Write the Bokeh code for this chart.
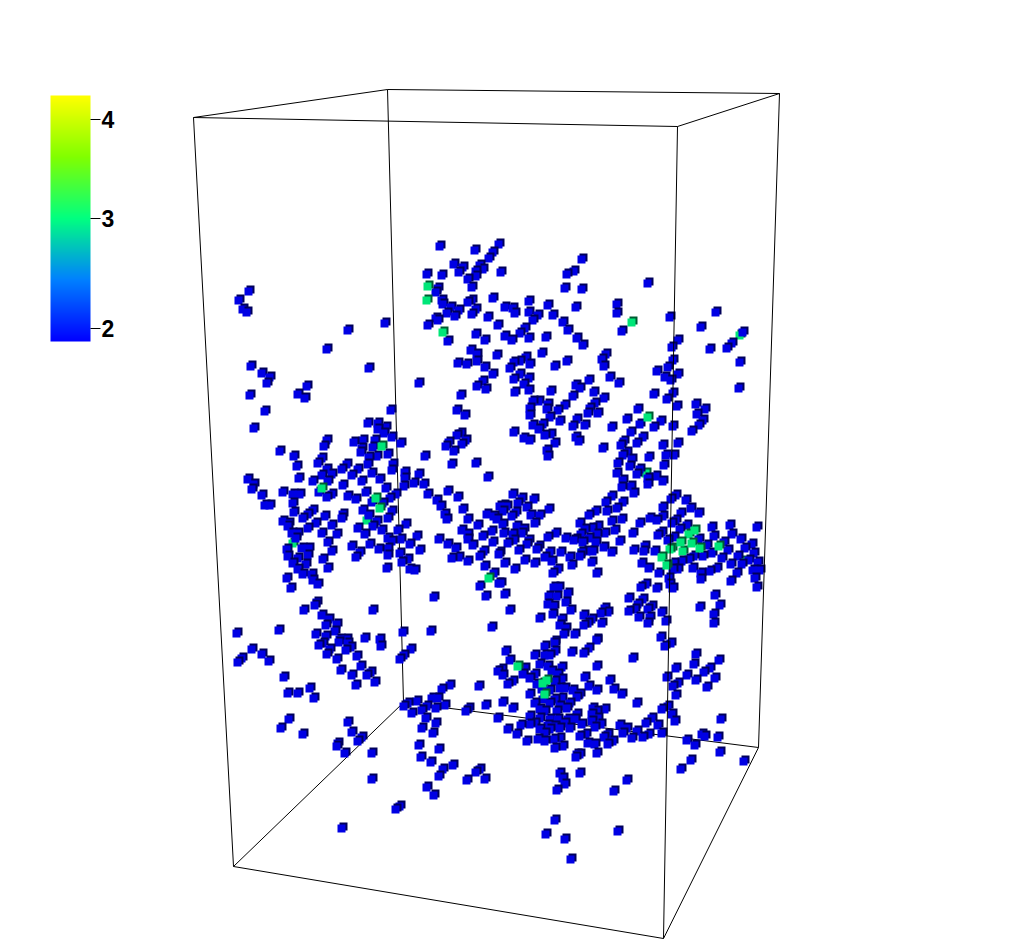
from bokeh.embed import file_html
from bokeh.resources import INLINE
from bokeh.plotting import figure
from bokeh.models import Range1d, ColumnDataSource, ColorBar, LinearColorMapper, FixedTicker

# Projected positions of the data points (image pixels).
upper_left = [(440,245),(475,249),(499,243),(493,251),(489,257),(454,263),(463,266),(480,264),(483,268),(459,271),
 (476,270),(476,275),(427,273),(442,274),(468,278),(501,271),(472,286),(438,287),(436,291),(442,299),(443,303),(451,306),
 (472,299),(468,301),(493,297),(476,308),(459,309),(447,312),(455,315),(472,313),(488,316),(498,324),(436,317),(438,319),
 (428,324),(448,340),(476,333),(485,339),(471,349),(477,353),(477,360),(458,362),(467,363),(497,354),(485,366),(493,373),
 (483,380),(477,385),(486,388),(461,394),(457,409),(465,414),(419,382),(369,367),(385,322),(348,329),(327,348),(249,290),
 (239,299),(243,308),(247,311),(251,365),(262,372),(270,376),(267,382),(307,385),(298,393),(305,397),(250,394),(265,410),
 (254,427),(391,409),(368,422),(378,422),(378,428),(386,426),(384,432),(392,436),(401,442),(354,441),(363,439),(362,447),
 (361,451),(375,439),(373,446),(388,453),(327,439),(324,445),(280,450),(294,455),(322,457),(369,456),(377,455),(425,455),
 (461,432),(457,434),(466,439),(462,443),(449,441),(446,445),(454,450)]
middle_left = [(452,463),(476,462),(297,465),(318,462),(368,463),(393,463),(347,463),(342,468),(327,468),(332,473),(322,474),
 (299,477),(313,480),(328,480),(358,468),(352,474),(372,472),(392,469),(405,471),(405,477),(419,473),(380,478),(362,480),
 (343,484),(414,482),(404,485),(424,483),(488,476),(248,478),(254,483),(252,488),(262,494),(283,491),(319,491),(327,496),
 (332,493),(293,493),(300,493),(293,502),(386,487),(366,491),(348,495),(356,498),(372,501),(396,493),(390,497),(383,502),
 (428,493),(437,499),(441,505),(448,490),(458,496),(463,508),(445,513),(447,518),(468,518),(487,513),(478,524),(500,505),
 (265,504),(270,504),(294,511),(313,509),(308,513),(303,517),(283,520),(289,522),(325,515),(316,522),(343,513),(342,517),
 (363,509),(369,514),(392,510),(388,517),(377,520),(373,525),(332,524),(308,527),(288,525),(292,532),(298,532),(322,532),
 (337,533),(358,527),(365,533),(382,529),(398,529),(406,523),(388,537),(392,540),(401,538),(417,535),(296,537),(328,541),
 (370,543),(352,545),(410,543),(439,538),(448,543),(456,547),(473,544),(462,529),(468,533),(468,538),(483,535),(493,541),
 (492,530),(494,515),(497,518),(420,549),(379,548),(388,547),(388,554),(400,552),(408,558),(402,561),(410,568),(415,569),
 (387,567),(360,551),(356,556),(332,550),(323,558),(328,567),(287,548),(288,555),(302,547),(309,547),(308,554),(298,557),
 (293,562),(306,563),(298,568),(303,573),(312,573),(313,579),(318,583),(287,577),(291,587),(452,557),(459,556),(468,560),
 (480,555),(484,550),(485,565),(494,572),(499,582),(480,585),(486,595),(434,596),(499,553),(315,604),(317,601),(304,609),
 (322,614),(329,618),(337,623),(326,624),(373,609),(237,632),(279,629),(316,633),(335,630),(326,635),(340,638),(347,638),
 (365,637),(380,638),(403,631),(431,630),(492,626)]
lower_left = [(252,648),(262,653),(269,660),(242,657),(238,661),(284,676),(288,692),(298,692),(310,687),(314,697),(319,644),
 (323,642),(339,641),(348,642),(381,645),(346,649),(351,646),(330,648),(327,653),(337,658),(357,655),(361,665),(341,669),
 (352,674),(371,671),(367,674),(375,681),(356,684),(411,648),(404,654),(400,658),(498,670),(479,685),(450,684),(442,688),
 (432,697),(438,697),(417,700),(445,704),(436,707),(427,705),(422,709),(408,702),(404,705),(412,712),(469,707),(466,710),
 (486,704),(498,717),(426,717),(436,722),(422,727),(433,732),(289,718),(281,727),(303,733),(348,721),(352,731),(362,736),
 (358,740),(338,742),(337,745),(345,752),(372,752),(419,744),(439,748),(421,756),(431,761),(453,764),(443,768),(439,775),
 (480,768),(476,771),(467,779),(485,778),(372,778),(427,786),(434,794),(400,805),(396,808),(342,827)]
lower_right = [(506,650),(510,659),(502,668),(525,667),(503,674),(513,680),(508,683),(523,673),(530,677),(535,673),(535,654),
 (545,645),(555,642),(555,650),(545,654),(550,654),(572,651),(584,652),(589,647),(597,639),(540,663),(552,670),(562,666),
 (558,673),(537,683),(550,689),(562,678),(560,687),(565,687),(573,689),(580,693),(577,696),(585,676),(597,665),(589,685),
 (597,689),(610,679),(614,688),(622,693),(633,657),(530,693),(535,702),(543,698),(555,698),(562,697),(560,705),(550,702),
 (545,710),(557,710),(567,707),(503,701),(513,707),(530,715),(540,717),(530,723),(521,724),(508,728),(517,733),(527,740),
 (540,728),(550,718),(550,728),(558,718),(560,727),(568,718),(577,713),(575,718),(570,727),(582,723),(593,707),(597,710),
 (605,708),(592,713),(592,720),(598,717),(595,726),(601,723),(545,740),(554,738),(560,737),(555,747),(580,735),(586,733),
 (588,742),(595,743),(597,752),(577,753),(580,753),(576,756),(604,736),(608,743),(613,740),(608,733),(620,724),(627,727),
 (623,732),(632,737),(637,730),(643,736),(649,733),(646,722),(652,717),(658,724),(662,732),(662,708),(668,705),(672,713),
 (675,720),(637,702),(667,676),(676,667),(678,682),(673,685),(676,694),(687,674),(696,653),(694,663),(696,679),(704,671),
 (710,667),(719,659),(715,677),(707,686),(721,718),(702,733),(705,735),(718,736),(687,739),(695,744),(691,759),(681,768),
 (720,751),(744,760),(661,636),(665,645),(671,642),(560,772),(565,783),(557,789),(563,777),(580,772),(627,779),(614,790),
 (555,819),(546,833),(565,838),(571,858),(618,830),
 (540,708),(548,724),(535,722),(545,732),(555,725),(565,722),(542,688),(555,680),(548,665),(570,702),(538,738),(563,745)]
middle_right = [(617,472),(623,479),(622,486),(631,485),(634,492),(637,473),(648,477),(648,483),(656,475),(663,480),(513,493),
 (522,497),(534,498),(518,502),(527,506),(504,504),(507,505),(503,510),(516,511),(512,515),(531,514),(540,514),(535,522),
 (549,508),(503,523),(517,525),(524,528),(504,532),(513,533),(522,532),(514,539),(508,542),(529,539),(527,543),(539,545),
 (537,548),(519,549),(500,551),(550,551),(548,536),(556,532),(566,537),(574,539),(561,551),(525,559),(535,562),(545,556),
 (552,560),(505,562),(515,568),(570,556),(572,564),(558,568),(553,572),(597,572),(582,551),(580,555),(587,550),(592,561),
 (593,550),(604,546),(612,551),(580,522),(589,514),(596,510),(606,501),(612,495),(623,501),(617,507),(607,510),(612,520),
 (622,518),(598,525),(592,527),(585,528),(605,532),(597,533),(581,533),(589,537),(576,538),(583,541),(596,541),(615,529),
 (620,540),(633,532),(634,549),(644,550),(645,545),(655,550),(642,562),(649,567),(659,572),(640,522),(650,517),(657,519),
 (658,534),(663,506),(663,515),(671,498),(676,494),(686,499),(691,507),(699,512),(681,512),(672,522),(676,519),(680,528),
 (687,524),(662,531),(668,539),(674,536),(699,538),(707,544),(712,552),(714,535),(712,526),(730,524),(732,533),(724,541),
 (741,538),(752,543),(757,526),(745,547),(728,549),(722,557),(738,555),(731,563),(742,563),(749,559),(754,552),(758,561),
 (753,569),(760,569),(737,572),(755,577),(757,586),(731,580),(717,567),(710,570),(693,567),(701,572),(701,578),(703,555),
 (694,555),(689,558),(682,560),(678,568),(673,568),(674,562),(669,577),(670,583),(673,587),(657,587),(646,583),(641,586),
 (629,597),(643,598),(638,603),(635,608),(629,610),(648,608),(652,605),(662,611),(639,616),(650,616),(648,622),(666,620),
 (700,606),(720,604),(715,594),(714,613),(714,622),(549,595),(554,586),(559,586),(568,592),(557,595),(566,601),(548,603),
 (554,605),(553,613),(571,609),(510,609),(540,617),(562,618),(560,624),(566,627),(584,614),(584,624),(588,622),(592,618),
 (602,622),(601,612),(605,607),(608,611),(575,633),(564,633),(597,638),(555,640),(505,593),(501,582),
 (618,462),(630,465),(640,468),(664,464)]
upper_right = [(582,258),(574,270),(567,273),(565,287),(582,288),(648,282),(529,300),(548,304),(576,306),(617,303),(617,312),
 (505,306),(513,307),(515,312),(529,311),(538,314),(553,314),(533,319),(563,321),(670,316),(716,311),(701,326),(622,330),
 (743,331),(568,329),(525,327),(520,332),(505,335),(512,339),(529,337),(546,336),(577,337),(583,344),(678,339),(672,346),
 (732,342),(727,347),(710,348),(542,352),(606,353),(602,358),(604,365),(567,360),(555,365),(526,356),(530,363),(514,361),
 (510,367),(520,360),(520,373),(529,377),(514,378),(524,383),(610,376),(589,379),(619,382),(673,359),(668,366),(657,370),
 (678,373),(665,376),(671,379),(740,361),(739,387),(576,384),(580,387),(551,390),(529,389),(515,391),(573,395),(594,391),
 (604,397),(654,393),(673,392),(667,398),(677,405),(696,403),(705,408),(697,413),(703,419),(699,424),(692,430),(661,420),
 (654,426),(673,425),(638,408),(627,418),(640,423),(631,431),(643,436),(637,442),(624,440),(621,444),(627,451),(623,454),
 (649,456),(663,444),(678,442),(666,454),(674,454),(632,458),(595,402),(590,407),(588,412),(598,412),(565,404),(558,409),
 (548,403),(539,400),(533,400),(530,407),(547,408),(550,416),(560,420),(530,414),(577,418),(573,425),(585,424),(612,426),
 (533,424),(543,423),(539,428),(545,434),(551,433),(514,431),(524,437),(530,439),(555,442),(576,436),(579,440),(603,447),
 (547,449),(548,455)]
high_value_front = [(428,285),(427,299),(443,331),(322,487),(376,497),(380,507),(382,445),(632,321),(648,416),(489,577),
 (543,682),(547,679),(545,693),(518,665),(689,533),(695,529),(681,541),(692,542),(670,548),(700,547),(719,545),(662,556),(667,564)]
high_value_back = [(740,334),(293,542),(367,519),(646,472),(683,550),(582,551),(744,560),(672,547)]

# Box corners (projected)
top_front_left, top_front_right = (193,117), (677,126)
top_back_left, top_back_right = (387,89), (779,93)
bot_front_left, bot_front_right = (233,866), (663,938)
bot_back_left, bot_back_right = (403,702), (758,747)

tick_labels = ["2", "3", "4"]
tick_positions = [13, 123, 222]   # along the 246-step bar
bar_stops = [(0,0,255), (0,128,255), (0,255,128), (128,255,0), (255,255,0)]

BLUE, BLUE_DARK = "#0000e4", "#00005a"
GREEN, GREEN_DARK = "#00e678", "#005a32"

def palette(n=246):
    out = []
    for i in range(n):
        t = i / (n - 1) * (len(bar_stops) - 1)
        k = min(int(t), len(bar_stops) - 2)
        f = t - k
        c = [round(a + (b - a) * f) for a, b in zip(bar_stops[k], bar_stops[k + 1])]
        out.append("#%02x%02x%02x" % tuple(c))
    return out

p = figure(width=1024, height=946, x_range=Range1d(0, 1024), y_range=Range1d(946, 0),
           x_axis_location=None, y_axis_location=None, toolbar_location=None,
           output_backend="svg", min_border=0, outline_line_color=None)
p.grid.visible = False

def edges(pairs):
    for a, b in pairs:
        yield [a[0], b[0]], [a[1], b[1]]

back_edges = [(top_back_left, bot_back_left), (bot_back_left, bot_back_right),
              (bot_back_left, bot_front_left), (top_back_left, top_back_right), (top_back_left, top_front_left)]
front_edges = [(top_front_left, top_front_right), (top_front_right, top_back_right),
               (top_front_left, bot_front_left), (top_front_right, bot_front_right),
               (top_back_right, bot_back_right), (bot_front_left, bot_front_right),
               (bot_front_right, bot_back_right)]

bx, by = zip(*edges(back_edges))
p.multi_line(list(bx), list(by), line_color="black", line_width=1)

xs, ys, colors = [], [], []
def add(points, face, shade):
    for x, y in points:
        xs.extend([x + 1, x - 1])
        ys.extend([y - 1, y + 1])
        colors.extend([shade, face])

add(high_value_back, GREEN, GREEN_DARK)
all_blue = upper_left + upper_right + middle_left + middle_right + lower_left + lower_right
add(sorted(all_blue, key=lambda q: q[1]), BLUE, BLUE_DARK)
add(high_value_front, GREEN, GREEN_DARK)

src = ColumnDataSource(dict(x=xs, y=ys, c=colors))
p.scatter("x", "y", source=src, marker="square", size=8, fill_color="c", line_color=None)

fx, fy = zip(*edges(front_edges))
p.multi_line(list(fx), list(fy), line_color="black", line_width=1)

mapper = LinearColorMapper(palette=palette(), low=0, high=246)
bar = ColorBar(color_mapper=mapper, location=(50, 605), width=40, height=246, padding=0, margin=0,
               ticker=FixedTicker(ticks=tick_positions),
               major_label_overrides={t: s for t, s in zip(tick_positions, tick_labels)},
               major_tick_in=0, major_tick_out=10, major_tick_line_color="black", major_tick_line_width=1,
               minor_tick_line_color=None, bar_line_color=None, border_line_color=None,
               background_fill_color=None, label_standoff=1,
               major_label_text_font="Liberation Sans", major_label_text_font_style="bold",
               major_label_text_font_size="23px", major_label_text_color="black")
p.add_layout(bar, "center")

open("out.html", "w").write(file_html(p, INLINE))
